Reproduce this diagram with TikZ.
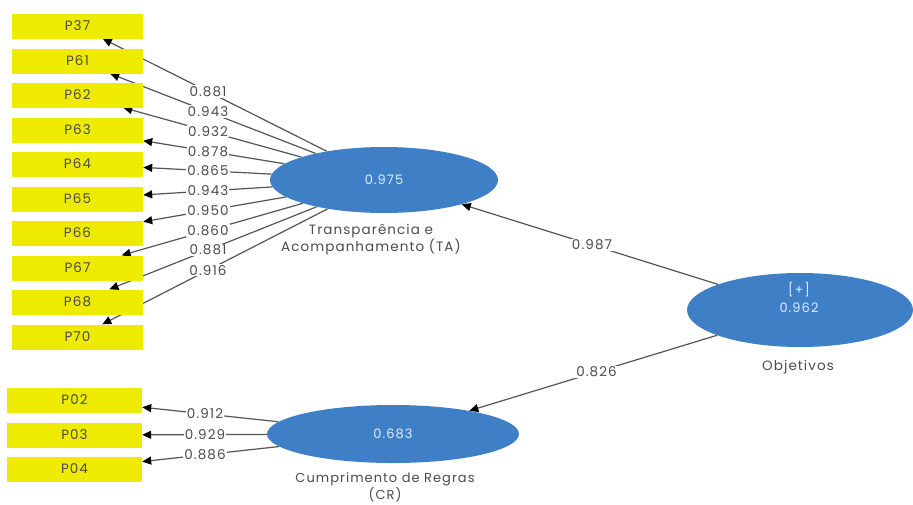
\documentclass[tikz,border=0pt]{standalone}
\usepackage{fontspec}
\setmainfont[LetterSpace=8]{Poppins}
\usetikzlibrary{shapes.geometric,arrows.meta,backgrounds,calc}
\definecolor{plsyellow}{RGB}{238,234,0}
\definecolor{plsblue}{RGB}{62,127,198}
\definecolor{edgegray}{RGB}{85,85,85}
\definecolor{txtgray}{RGB}{75,75,75}
\definecolor{paleblue}{RGB}{220,235,252}
\begin{document}
\begin{tikzpicture}[x=1pt,y=-1pt,
  ind/.style={fill=plsyellow, minimum width=131pt, minimum height=25pt, inner sep=0pt,
    font=\fontsize{13.5}{15}\selectfont, text=txtgray},
  lv/.style={ellipse, fill=plsblue, inner sep=0pt, text=paleblue,
    font=\fontsize{13}{16}\selectfont},
  arr/.style={draw=edgegray, line width=1.2pt,
    -{Triangle[length=9pt,width=8pt,color=black]}},
  lbl/.style={fill=white, inner sep=1.2pt, text=txtgray, font=\fontsize{13.5}{15}\selectfont},
  capt/.style={text=txtgray, align=center, font=\fontsize{13.5}{15.5}\selectfont}
]
\useasboundingbox (0,0) rectangle (913,504);

% indicator boxes
\node[ind] (p37) at (77.5,26)  {P37};
\node[ind] (p61) at (77.5,61)  {P61};
\node[ind] (p62) at (77.5,95)  {P62};
\node[ind] (p63) at (77.5,130) {P63};
\node[ind] (p64) at (77.5,164) {P64};
\node[ind] (p65) at (77.5,199) {P65};
\node[ind] (p66) at (77.5,233) {P66};
\node[ind] (p67) at (77.5,268) {P67};
\node[ind] (p68) at (77.5,302) {P68};
\node[ind] (p70) at (77.5,337) {P70};

\node[ind, minimum width=135pt] (p02) at (74.5,400) {P02};
\node[ind, minimum width=135pt] (p03) at (74.5,435) {P03};
\node[ind, minimum width=135pt] (p04) at (74.5,469) {P04};

% latent variables
\node[lv, minimum width=228pt, minimum height=66pt] (ta) at (384,180) {0.975};
\node[lv, minimum width=226pt, minimum height=74pt] (obj) at (800,310) {};
\node[lv, minimum width=252pt, minimum height=58pt] (cr) at (393,434) {0.683};
\node[text=paleblue, align=center, font=\fontsize{13}{18}\selectfont] (objtxt) at (799,297) {[+]\\0.962};

% captions
\node[capt] (tacap) at (371,240) {Transparência e\\Acompanhamento (TA)};
\node[capt] (objcap) at (798,367) {Objetivos};
\node[capt, font=\fontsize{13}{14}\selectfont] (crcap) at (385,487) {Cumprimento de Regras\\(CR)};

% guide lines for label positions
\coordinate (ut) at (208,0);
\coordinate (ub) at (208,504);
\coordinate (dt) at (205,0);
\coordinate (db) at (205,504);

% connectors (behind the boxes)
\begin{scope}[on background layer]
  \fill[white] (0,0) rectangle (913,504);
  \foreach \p in {p37,p61,p62,p63,p64,p65,p66,p67,p68,p70}
    \draw[arr] (ta) -- (\p);
  \foreach \p in {p02,p03,p04}
    \draw[arr] (cr) -- (\p);
  \draw[arr] (obj) -- (ta);
  \draw[arr] (obj) -- (cr);
\end{scope}

% loadings
\foreach \p/\v in {p37/0.881,p61/0.943,p62/0.932,p63/0.878,p64/0.865,
                   p65/0.943,p66/0.950,p67/0.860,p68/0.881,p70/0.916}
  \node[lbl] (l\p) at (intersection of ta.center--\p.center and ut--ub) {\v};
\foreach \p/\v in {p02/0.912,p03/0.929,p04/0.886}
  \node[lbl] (l\p) at (intersection of cr.center--\p.center and dt--db) {\v};

% path coefficients
\node[lbl] (lta) at ($(obj.center)!0.5!(ta.center)$) {0.987};
\node[lbl] (lcr) at ($(obj.center)!0.5!(cr.center)$) {0.826};
\end{tikzpicture}
\end{document}
